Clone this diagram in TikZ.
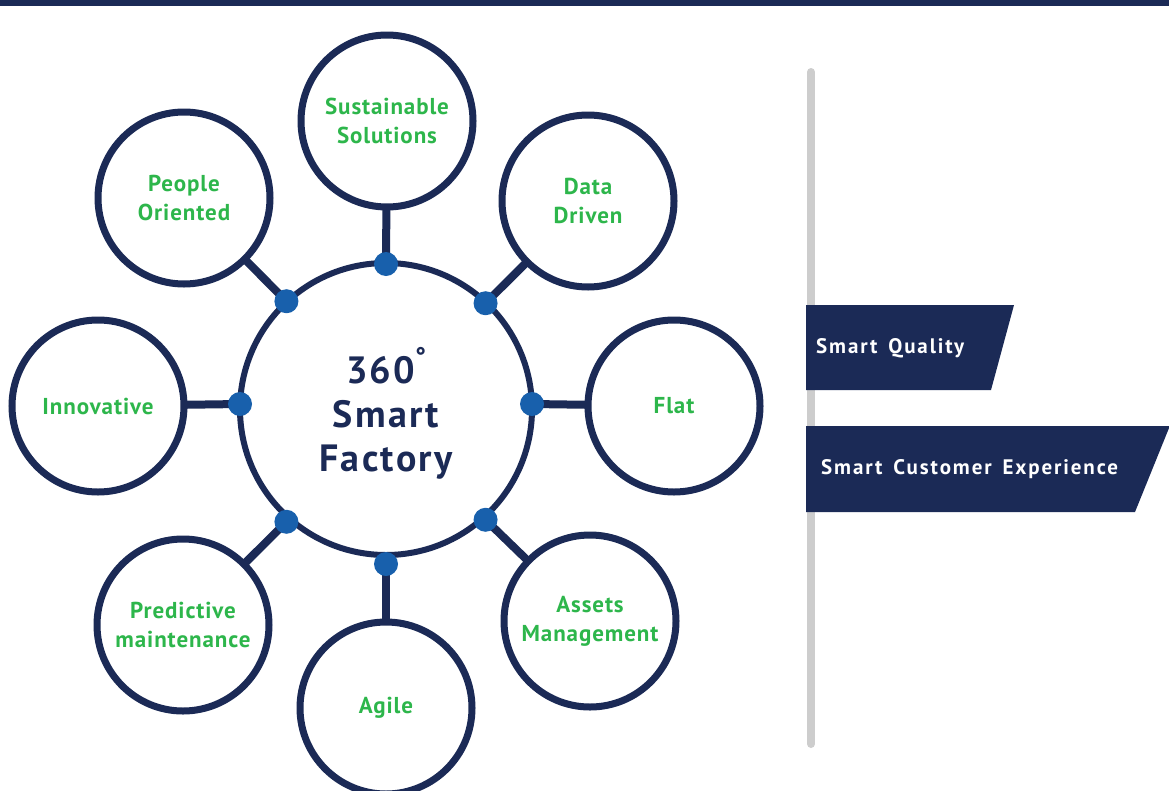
\documentclass[tikz,border=0pt]{standalone}
\usepackage{fontspec}
\setmainfont{PT Sans}
\newfontfamily\lblfont[LetterSpace=4]{PT Sans}
\newfontfamily\hubfont[LetterSpace=6]{PT Sans}
\newfontfamily\banfont[LetterSpace=9,WordSpace=1.5]{PT Sans}
\definecolor{navy}{RGB}{27,42,86}
\definecolor{dotblue}{RGB}{24,96,172}
\definecolor{lgreen}{RGB}{45,182,75}
\definecolor{lgray}{RGB}{205,205,205}
\tikzset{
  hub/.style={circle, draw=navy, line width=6pt, fill=white, minimum size=292pt, inner sep=0pt, outer sep=0pt},
  leaf/.style={circle, draw=navy, line width=7pt, fill=white, minimum size=172pt, inner sep=0pt, outer sep=0pt,
     text=lgreen, font=\lblfont\fontsize{23}{29}\selectfont\bfseries, align=center},
  conn/.style={draw=navy, line width=8pt},
  dotn/.style={circle, fill=dotblue, minimum size=24pt, inner sep=0pt},
  banner/.style={fill=navy, draw=none},
  bantext/.style={text=white, font=\banfont\fontsize{21}{22}\selectfont\bfseries, anchor=west, inner sep=0pt}
}
\begin{document}
\begin{tikzpicture}[x=1pt,y=-1pt]
\useasboundingbox (0,0) rectangle (1169,790);
\fill[navy] (0,0) rectangle (1169,6);
% gray vertical line
\coordinate (gtop) at (811,72);
\coordinate (gbot) at (811,744);
\draw[lgray, line width=8pt, line cap=round] (gtop) -- (gbot);
% banners
\fill[banner] (806,305) -- (1014,305) -- (991,390) -- (806,390) -- cycle;
\fill[banner] (806,426) -- (1169,426) -- (1169,428) -- (1135,512) -- (806,512) -- cycle;
\node[bantext] (q) at (816,348) {Smart Quality};
\node[bantext] (cx) at (821,469) {Smart Customer Experience};
% hub
\node[hub] (C) at (386,409) {};
\node[text=navy, font=\hubfont\fontsize{38}{44}\selectfont\bfseries, align=center] (ct) at (386,413)
  {360\raisebox{0.5em}{\fontsize{24}{24}\selectfont°}\\Smart\\Factory};
% leaves
\node[leaf] (S) at (387,121) {Sustainable\\Solutions};
\node[leaf] (P) at (184,198) {People\\Oriented};
\node[leaf] (D) at (588,201) {Data\\Driven};
\node[leaf] (I) at (98,406) {Innovative};
\node[leaf] (F) at (674,406) {Flat};
\node[leaf] (M) at (183,625) {Predictive\\maintenance};
\node[leaf] (A) at (590,621) {Assets\\Management};
\node[leaf] (G) at (386,708) {Agile};
% dots positions
\coordinate (p1) at ([yshift=-1pt]C.90);
\coordinate (p2) at ([yshift=1pt]C.133);
\coordinate (p3) at ([yshift=-1pt]C.47);
\coordinate (p4) at ([yshift=5pt]C.180);
\coordinate (p5) at ([yshift=5pt]C.0);
\coordinate (p6) at ([yshift=-6pt]C.227);
\coordinate (p7) at ([yshift=-4pt]C.313);
\coordinate (p8) at ([yshift=-9pt]C.270);
\draw[conn] (p1) -- (S);
\draw[conn] (p2) -- (P);
\draw[conn] (p3) -- (D);
\draw[conn] (p4) -- (I);
\draw[conn] (p5) -- (F);
\draw[conn] (p6) -- (M);
\draw[conn] (p7) -- (A);
\draw[conn] (p8) -- (G);
\node[dotn] (d1) at (p1) {};
\node[dotn] (d2) at (p2) {};
\node[dotn] (d3) at (p3) {};
\node[dotn] (d4) at (p4) {};
\node[dotn] (d5) at (p5) {};
\node[dotn] (d6) at (p6) {};
\node[dotn] (d7) at (p7) {};
\node[dotn] (d8) at (p8) {};
\end{tikzpicture}
\end{document}
